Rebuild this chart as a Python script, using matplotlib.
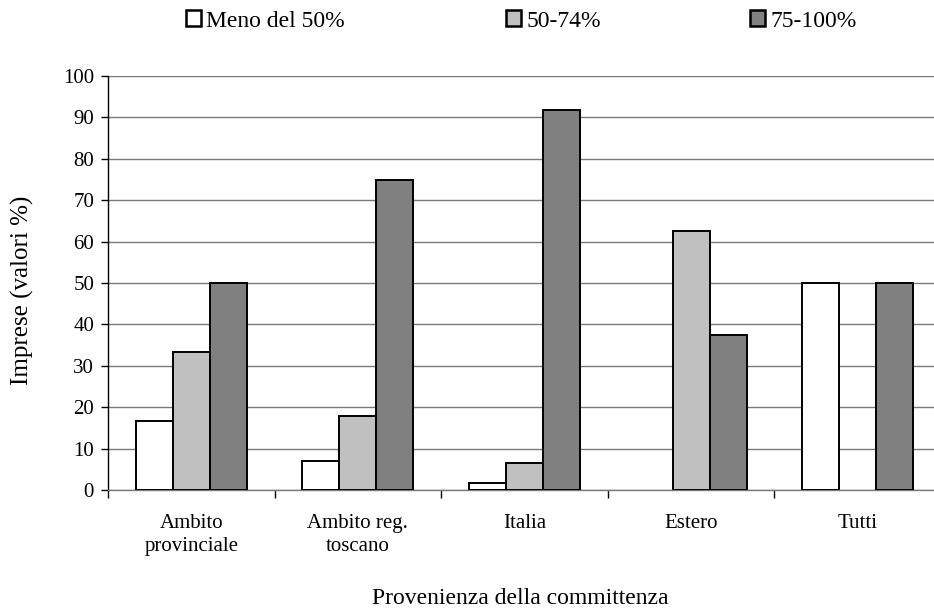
import matplotlib
matplotlib.use("Agg")
import matplotlib.pyplot as plt
from matplotlib.patches import Patch
import numpy as np

categories = ["Ambito\nprovinciale", "Ambito reg.\ntoscano", "Italia", "Estero", "Tutti"]
series_names = ["Meno del 50%", "50-74%", "75-100%"]
meno50 = [16.7, 7.1, 1.6, 0.0, 50.0]
s50_74 = [33.3, 17.9, 6.6, 62.5, 0.0]
s75_100 = [50.0, 75.0, 91.8, 37.5, 50.0]
yticks = [0, 10, 20, 30, 40, 50, 60, 70, 80, 90, 100]

colors = ["#FFFFFF", "#C0C0C0", "#808080"]

plt.rcParams['font.family'] = ['Liberation Serif', 'DejaVu Serif']

W, H = 934, 613
fig = plt.figure(figsize=(W / 100, H / 100), dpi=100)
left, right, top, bottom = 108, 941, 76, 490
ax = fig.add_axes([left / W, 1 - bottom / H, (right - left) / W, (bottom - top) / H])

x = np.arange(len(categories))
bw = 0.222
for i, (vals, c) in enumerate(zip([meno50, s50_74, s75_100], colors)):
    vals = np.array(vals)
    mask = vals > 0
    ax.bar(x[mask] + (i - 1) * bw, vals[mask], width=bw, color=c,
           edgecolor="black", linewidth=1.4, zorder=3)

ax.set_xlim(-0.5, len(categories) - 0.5)
ax.set_ylim(0, 100)
ax.set_yticks(yticks)
ax.set_yticklabels([str(v) for v in yticks], fontsize=15)
ax.yaxis.grid(True, color="#7a7a7a", linewidth=1.0, zorder=0)
ax.set_axisbelow(True)

ax.set_xticks(x)
ax.set_xticklabels(categories, fontsize=15, linespacing=1.3)
ax.tick_params(axis="x", length=0, pad=17)
ax.set_xticks(np.arange(len(categories) + 1) - 0.5, minor=True)
ax.tick_params(axis="x", which="minor", length=6, width=1, direction="out")
ax.tick_params(axis="y", length=5, width=1, direction="out", pad=5)

for s in ["top", "right"]:
    ax.spines[s].set_visible(False)
ax.spines["left"].set_linewidth(1.0)
ax.spines["bottom"].set_linewidth(1.0)
ax.spines["bottom"].set_color("#7a7a7a")

fig.text(22 / W, 1 - 290 / H, "Imprese (valori %)", rotation=90, fontsize=18,
         ha="center", va="center")
fig.text(520 / W, 1 - 598 / H, "Provenienza della committenza", fontsize=17,
         ha="center", va="center")

leg_x = [186, 506, 750]
for name, c, lx in zip(series_names, colors, leg_x):
    h = Patch(facecolor=c, edgecolor="black", linewidth=1.8)
    fig.legend(handles=[h], labels=[name], loc="center left",
               bbox_to_anchor=(lx / W, 1 - 21 / H), frameon=False, fontsize=17,
               handlelength=0.65, handleheight=0.65, handletextpad=0.2,
               borderpad=0, borderaxespad=0)

fig.savefig("out.png", dpi=100)
